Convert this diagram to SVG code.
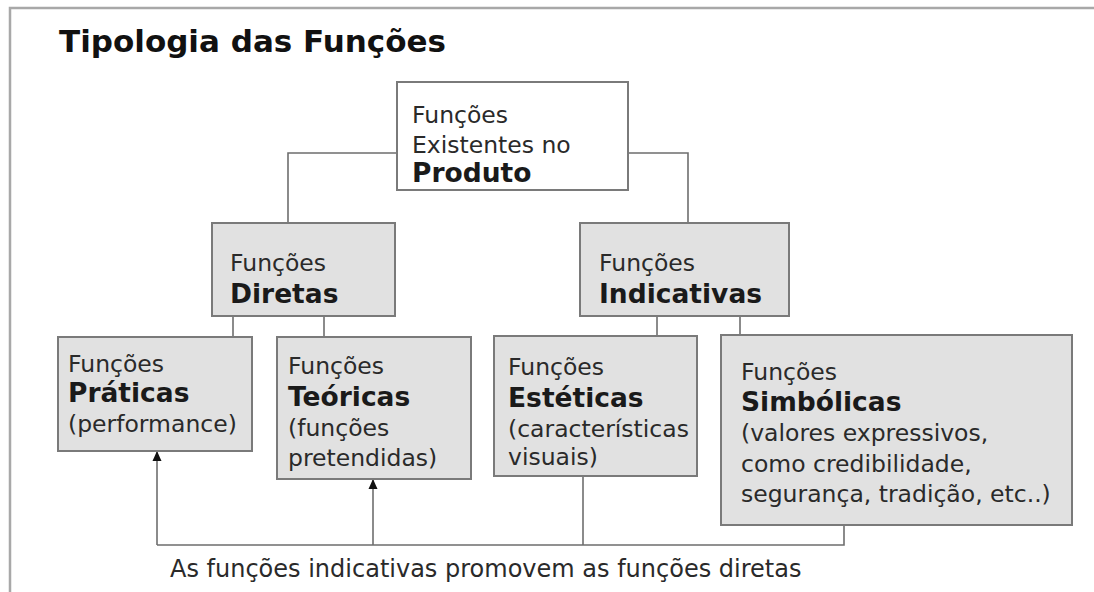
<svg xmlns="http://www.w3.org/2000/svg" width="1094" height="592" viewBox="0 0 1094 592">
  <style>
    .box { fill: #e1e1e1; stroke: #7a7a7a; stroke-width: 2; }
    .top { fill: #ffffff; stroke: #7a7a7a; stroke-width: 2; }
    .t { font-family: "DejaVu Sans", Verdana, sans-serif; font-size: 23.5px; fill: #2a2a2a; }
    .b { font-family: "DejaVu Sans", Verdana, sans-serif; font-size: 26.5px; font-weight: bold; fill: #1a1a1a; }
    .conn { fill: none; stroke: #6e6e6e; stroke-width: 1.6; }
    .frame { fill: none; stroke: #a8a8a8; stroke-width: 2.5; }
  </style>
  <defs>
    <marker id="arrow" viewBox="0 0 10 10" refX="9" refY="5" markerWidth="11" markerHeight="10" markerUnits="userSpaceOnUse" orient="auto">
      <path d="M0,0.5 L10,5 L0,9.5 Z" fill="#111"/>
    </marker>
  </defs>
  <rect width="1094" height="592" fill="#ffffff"/>
  <path class="frame" d="M10,592 L10,8 L1094,8"/>
  <text id="title" x="59" y="52" font-family="DejaVu Sans, Verdana, sans-serif" font-size="31" font-weight="bold" fill="#111">Tipologia das Funções</text>

  <g id="connectors">
    <path class="conn" d="M397,153 L288,153 L288,223"/>
    <path class="conn" d="M628,153 L688,153 L688,223"/>
    <path class="conn" d="M233,316 L233,337"/>
    <path class="conn" d="M324,316 L324,337"/>
    <path class="conn" d="M657,316 L657,336"/>
    <path class="conn" d="M740,316 L740,335"/>
    <path class="conn" d="M583,476 L583,545"/>
    <path class="conn" d="M844,525 L844,545 L157,545"/>
    <path class="conn" d="M157,545 L157,452" marker-end="url(#arrow)"/>
    <path class="conn" d="M373,545 L373,480" marker-end="url(#arrow)"/>
  </g>

  <g id="produto">
    <rect class="top" x="397" y="82" width="231" height="108"/>
    <text class="t" x="412" y="123">Funções</text>
    <text class="t" x="412" y="153">Existentes no</text>
    <text class="b" x="412" y="182">Produto</text>
  </g>

  <g id="diretas">
    <rect class="box" x="212" y="223" width="183" height="93"/>
    <text class="t" x="230" y="271">Funções</text>
    <text class="b" x="230" y="303">Diretas</text>
  </g>

  <g id="indicativas">
    <rect class="box" x="580" y="223" width="209" height="93"/>
    <text class="t" x="599" y="271">Funções</text>
    <text class="b" x="599" y="303">Indicativas</text>
  </g>

  <g id="praticas">
    <rect class="box" x="58" y="337" width="194" height="114"/>
    <text class="t" x="68" y="372">Funções</text>
    <text class="b" x="68" y="402">Práticas</text>
    <text class="t" x="68" y="432">(performance)</text>
  </g>

  <g id="teoricas">
    <rect class="box" x="277" y="337" width="194" height="142"/>
    <text class="t" x="288" y="374">Funções</text>
    <text class="b" x="288" y="406">Teóricas</text>
    <text class="t" x="288" y="436">(funções</text>
    <text class="t" x="288" y="466">pretendidas)</text>
  </g>

  <g id="esteticas">
    <rect class="box" x="494" y="336" width="203" height="140"/>
    <text class="t" x="508" y="375">Funções</text>
    <text class="b" x="508" y="407">Estéticas</text>
    <text class="t" x="508" y="437">(características</text>
    <text class="t" x="508" y="465">visuais)</text>
  </g>

  <g id="simbolicas">
    <rect class="box" x="721" y="335" width="351" height="190"/>
    <text class="t" x="741" y="380">Funções</text>
    <text class="b" x="741" y="411">Simbólicas</text>
    <text class="t" x="741" y="441">(valores expressivos,</text>
    <text class="t" x="741" y="472">como credibilidade,</text>
    <text class="t" x="741" y="502">segurança, tradição, etc..)</text>
  </g>

  <text id="caption" class="t" x="170" y="577" style="font-size:24px">As funções indicativas promovem as funções diretas</text>
</svg>
